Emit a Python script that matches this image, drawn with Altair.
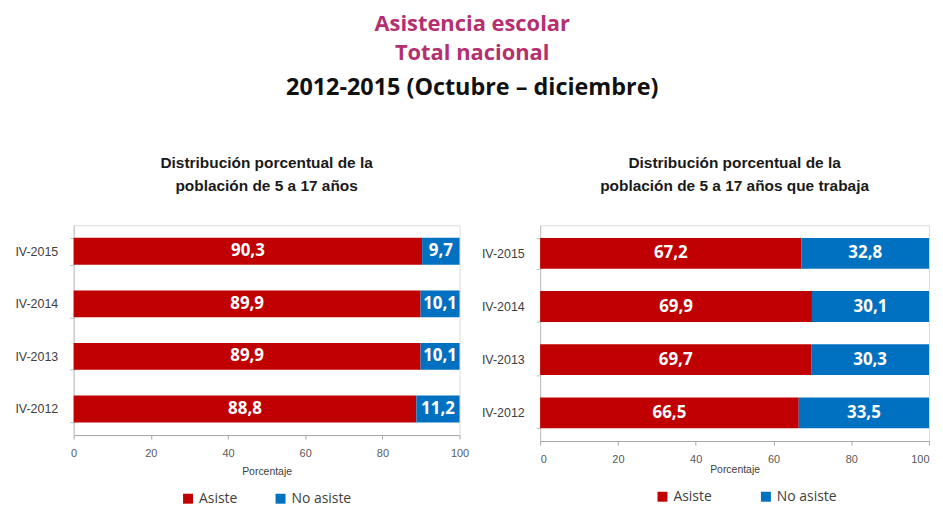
import altair as alt
import pandas as pd

years = ["IV-2015", "IV-2014", "IV-2013", "IV-2012"]
categories = ["Asiste", "No asiste"]
asiste_total = [90.3, 89.9, 89.9, 88.8]
no_asiste_total = [9.7, 10.1, 10.1, 11.2]
asiste_trabaja = [67.2, 69.9, 69.7, 66.5]
no_asiste_trabaja = [32.8, 30.1, 30.3, 33.5]

colors = ["#C00000", "#0070C0"]


def make_df(a, n):
    rows = []
    for y, va, vn in zip(years, a, n):
        rows.append({"periodo": y, "cat": categories[0], "orden": 0, "valor": va})
        rows.append({"periodo": y, "cat": categories[1], "orden": 1, "valor": vn})
    return pd.DataFrame(rows)


def panel(df, title_lines, legend_x, legend_dy, col_pad, bar_pad, width, height, title_pad, flush):
    base = alt.Chart(df).transform_stack(
        stack="valor", groupby=["periodo"], as_=["x0", "x1"],
        sort=[alt.SortField("orden", order="ascending")],
    ).transform_calculate(
        xm="(datum.x0 + datum.x1) / 2",
        etiqueta="replace(format(datum.valor, '.1f'), '.', ',')",
    )
    y_enc = alt.Y(
        "periodo:N", sort=years, title=None,
        scale=alt.Scale(paddingInner=bar_pad, paddingOuter=0.24),
        axis=alt.Axis(labelFontSize=12.5, labelColor="#404040", labelFont="Liberation Sans",
                      domainColor="#BFBFBF", tickColor="#BFBFBF", tickBand="extent",
                      tickSize=4, labelPadding=12),
    )
    bars = base.mark_bar().encode(
        y=y_enc,
        x=alt.X("x0:Q", title="Porcentaje",
                scale=alt.Scale(domain=[0, 100], nice=False),
                axis=alt.Axis(values=[0, 20, 40, 60, 80, 100], grid=False,
                              labelFontSize=11, labelColor="#595959", labelFlush=flush,
                              domainColor="#A6A6A6", tickColor="#A6A6A6", tickSize=4,
                              titleFontSize=10.5, titleFontWeight="normal",
                              titleColor="#404040", titlePadding=title_pad, labelPadding=9,
                              labelFont="Liberation Sans", titleFont="Liberation Sans")),
        x2="x1:Q",
        color=alt.Color("cat:N", scale=alt.Scale(domain=categories, range=colors),
                        legend=alt.Legend(title=None, orient="none", direction="horizontal",
                                          legendX=legend_x, legendY=height + legend_dy,
                                          symbolType="square", symbolSize=100,
                                          symbolStrokeWidth=0,
                                          labelFontSize=14, labelColor="#404040",
                                          labelFont="Open Sans", columnPadding=col_pad)),
    )
    texts = base.mark_text(color="white", fontWeight="bold", fontSize=17,
                           font="Open Sans").encode(
        y=alt.Y("periodo:N", sort=years),
        x="xm:Q",
        text="etiqueta:N",
    )
    return alt.layer(bars, texts).properties(
        width=width, height=height,
        title=alt.TitleParams(title_lines, fontSize=15.5, fontWeight="bold",
                              font="Liberation Sans", color="#1a1a1a", anchor="middle",
                              lineHeight=23, offset=25),
    )


left = panel(make_df(asiste_total, no_asiste_total),
             ["Distribución porcentual de la", "población de 5 a 17 años"],
             108, 57, 36, 0.49, 388, 211, 8, False)
right = panel(make_df(asiste_trabaja, no_asiste_trabaja),
              ["Distribución porcentual de la", "población de 5 a 17 años que trabaja"],
              116, 49, 47, 0.42, 391, 217, 0, True)

chart = alt.hconcat(left, right, spacing=11).resolve_scale(color="independent").properties(
    title=alt.TitleParams(
        ["Asistencia escolar", "Total nacional"],
        subtitle="2012-2015 (Octubre – diciembre)",
        fontSize=22, font="Open Sans", fontWeight="bold", color="#B5306E",
        lineHeight=29,
        subtitleFontSize=23.5, subtitleFont="Open Sans", subtitleFontWeight="bold",
        subtitleColor="#111111", subtitlePadding=12, anchor="middle", offset=55,
    )
).configure_view(stroke=None).configure(padding={"left": 6, "top": 3, "right": 5, "bottom": 5})

chart.save("out.html", embed_options={"renderer": "svg", "actions": False})
